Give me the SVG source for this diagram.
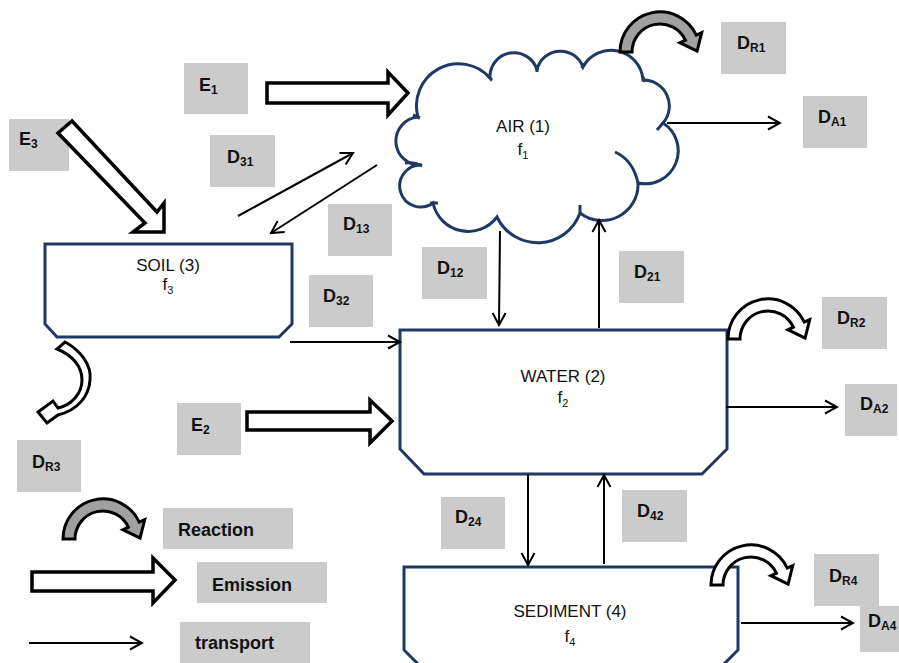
<svg xmlns="http://www.w3.org/2000/svg" width="899" height="663" viewBox="0 0 899 663">
<style>
.box{fill:#cbcbcb;stroke:none}
.lbl{font-family:"Liberation Sans",Arial,sans-serif;font-weight:bold;font-size:18px;fill:#111}
.sub{font-size:12px}
.node{fill:#fff;stroke:#1f3864;stroke-width:3;stroke-linejoin:miter}
.ntxt{font-family:"Liberation Sans",Arial,sans-serif;font-size:17px;fill:#111;text-anchor:middle}
.nsub{font-size:11px}
.tr{stroke:#000;stroke-width:2;fill:none;marker-end:url(#ah)}
.blk{fill:#fff;stroke:#000;stroke-width:3.5;stroke-linejoin:miter}
.crv{stroke:#000;stroke-width:3;stroke-linejoin:miter}
.stub{fill:none;stroke:#1f3864;stroke-width:3}
</style>
<defs>
<marker id="ah" markerUnits="userSpaceOnUse" viewBox="-2 -2 16 17" markerWidth="16" markerHeight="17" refX="12" refY="6.5" orient="auto">
<path d="M0,0 L12,6.5 L0,13" fill="none" stroke="#000" stroke-width="2"/>
</marker>
<path id="curv" d="M -40,0 A 40 40 0 0 1 36.3,-16.9 L 41.7,-19.4 L 37.1,-0.8 L 19.9,-9.3 L 25.4,-11.8 A 28 28 0 0 0 -28,0 Z"/>
</defs>
<rect width="899" height="663" fill="#fff"/>

<g id="air">
<path class="node" d="M418,117 A42 42 0 0 1 490,78 A24 24 0 0 1 537,70 A24 24 0 0 1 583,67 A32 32 0 0 1 643,80 A26 26 0 0 1 663,123 A33 33 0 0 1 638,183 A36 36 0 0 1 580,213 A45 45 0 0 1 497,217 A36 36 0 0 1 433,203 A21 21 0 1 1 422,165 A24 24 0 1 1 418,117 Z"/>
<path class="stub" d="M615,152 Q633,160 638,183 M657,130 L663,123 M405,163 Q415,162 422,166 M413,115 L420,118 M430,203 L438,203 M580,205 L580,213 M487,75 L492,80 M537,67 L537,72 M583,63 L582,68 M643,77 L645,82"/>
<text class="ntxt" x="523" y="132">AIR (1)</text>
<text class="ntxt" x="523" y="155">f<tspan class="nsub" dy="4">1</tspan></text>
</g>

<g id="soil">
<path class="node" d="M45,244 L292,244 L292,324 L279,337 L57,337 L45,324 Z"/>
<text class="ntxt" x="168" y="271">SOIL (3)</text>
<text class="ntxt" x="168" y="290">f<tspan class="nsub" dy="4">3</tspan></text>
</g>

<g id="water">
<path class="node" d="M400,330 L727,330 L727,449 L702,474 L424,474 L400,449 Z"/>
<text class="ntxt" x="563" y="382">WATER (2)</text>
<text class="ntxt" x="563" y="403">f<tspan class="nsub" dy="4">2</tspan></text>
</g>

<g id="sediment">
<path class="node" d="M404,567 L738,567 L738,650 L718,670 L424,670 L404,650 Z"/>
<text class="ntxt" x="570" y="617">SEDIMENT (4)</text>
<text class="ntxt" x="570" y="642">f<tspan class="nsub" dy="4">4</tspan></text>
</g>

<g id="labels">
<g id="lbl-E1"><rect class="box" x="184" y="63" width="64" height="51"/><text class="lbl" x="199" y="91">E<tspan class="sub" dy="3">1</tspan></text></g>
<g id="lbl-E3"><rect class="box" x="9" y="119" width="60" height="52"/><text class="lbl" x="19" y="145">E<tspan class="sub" dy="3">3</tspan></text></g>
<g id="lbl-D31"><rect class="box" x="210" y="135" width="65" height="52"/><text class="lbl" x="227" y="163">D<tspan class="sub" dy="3">31</tspan></text></g>
<g id="lbl-D13"><rect class="box" x="328" y="204" width="64" height="52"/><text class="lbl" x="343" y="230">D<tspan class="sub" dy="3">13</tspan></text></g>
<g id="lbl-D32"><rect class="box" x="309" y="275" width="64" height="52"/><text class="lbl" x="323" y="302">D<tspan class="sub" dy="3">32</tspan></text></g>
<g id="lbl-D12"><rect class="box" x="422" y="247" width="65" height="52"/><text class="lbl" x="437" y="274">D<tspan class="sub" dy="3">12</tspan></text></g>
<g id="lbl-D21"><rect class="box" x="619" y="251" width="65" height="52"/><text class="lbl" x="634" y="278">D<tspan class="sub" dy="3">21</tspan></text></g>
<g id="lbl-DR1"><rect class="box" x="721" y="22" width="65" height="52"/><text class="lbl" x="737" y="49">D<tspan class="sub" dy="3">R1</tspan></text></g>
<g id="lbl-DA1"><rect class="box" x="803" y="96" width="64" height="52"/><text class="lbl" x="818" y="123">D<tspan class="sub" dy="3">A1</tspan></text></g>
<g id="lbl-DR2"><rect class="box" x="822" y="297" width="65" height="52"/><text class="lbl" x="837" y="324">D<tspan class="sub" dy="3">R2</tspan></text></g>
<g id="lbl-DA2"><rect class="box" x="845" y="384" width="52" height="52"/><text class="lbl" x="860" y="410">D<tspan class="sub" dy="3">A2</tspan></text></g>
<g id="lbl-E2"><rect class="box" x="177" y="403" width="64" height="52"/><text class="lbl" x="191" y="431">E<tspan class="sub" dy="3">2</tspan></text></g>
<g id="lbl-DR3"><rect class="box" x="17" y="440" width="64" height="52"/><text class="lbl" x="32" y="468">D<tspan class="sub" dy="3">R3</tspan></text></g>
<g id="lbl-D24"><rect class="box" x="441" y="497" width="64" height="52"/><text class="lbl" x="455" y="523">D<tspan class="sub" dy="3">24</tspan></text></g>
<g id="lbl-D42"><rect class="box" x="622" y="490" width="65" height="52"/><text class="lbl" x="637" y="517">D<tspan class="sub" dy="3">42</tspan></text></g>
<g id="lbl-DR4"><rect class="box" x="814" y="554" width="65" height="52"/><text class="lbl" x="829" y="582">D<tspan class="sub" dy="3">R4</tspan></text></g>
<g id="lbl-DA4"><rect class="box" x="860" y="606" width="40" height="46"/><text class="lbl" x="868" y="627">D<tspan class="sub" dy="3">A4</tspan></text></g>
</g>

<g id="connectors">
<line class="tr" x1="238" y1="216" x2="353" y2="153"/>
<line class="tr" x1="377" y1="165" x2="271" y2="233"/>
<line class="tr" x1="290" y1="342" x2="400" y2="342"/>
<line class="tr" x1="500" y1="231" x2="499" y2="325"/>
<line class="tr" x1="599" y1="328" x2="599" y2="220"/>
<line class="tr" x1="667" y1="123" x2="780" y2="123"/>
<line class="tr" x1="726" y1="407" x2="837" y2="407"/>
<line class="tr" x1="528" y1="475" x2="528" y2="565"/>
<line class="tr" x1="604" y1="564" x2="604" y2="475"/>
<line class="tr" x1="741" y1="623" x2="853" y2="623"/>
<polygon class="blk" points="267,83 388,83 388,72 408,93 388,115 388,103 267,103"/>
<polygon class="blk" points="247,412 370,412 370,400 392,421 370,443 370,430 247,430"/>
<polygon class="blk" points="72,121 157,212 164,203 164,232 133,232 145,223 58,133"/>
<use href="#curv" class="crv" fill="#a0a0a0" transform="translate(660,52)"/>
<use href="#curv" class="crv" fill="#fff" transform="translate(768,339)"/>
<use href="#curv" class="crv" fill="#fff" transform="translate(751,585)"/>
<path class="crv" fill="#fff" d="M65,342 C80,350 92,365 90,380 C89,396 78,410 58,415 L47,423 L38,412 L53,401 L58,408 C72,405 82,393 82,380 C82,366 72,355 57,349 Z"/>
</g>

<g id="legend">
<use href="#curv" class="crv" fill="#a0a0a0" transform="translate(103,539)"/>
<rect class="box" x="163" y="508" width="130" height="41"/>
<text class="lbl" x="178" y="536">Reaction</text>
<polygon class="blk" points="32,572 153,572 153,558 175,580 153,603 153,591 32,591"/>
<rect class="box" x="197" y="562" width="130" height="41"/>
<text class="lbl" x="212" y="591">Emission</text>
<line class="tr" x1="29" y1="643" x2="142" y2="643"/>
<rect class="box" x="180" y="622" width="130" height="41"/>
<text class="lbl" x="195" y="649">transport</text>
</g>
</svg>
